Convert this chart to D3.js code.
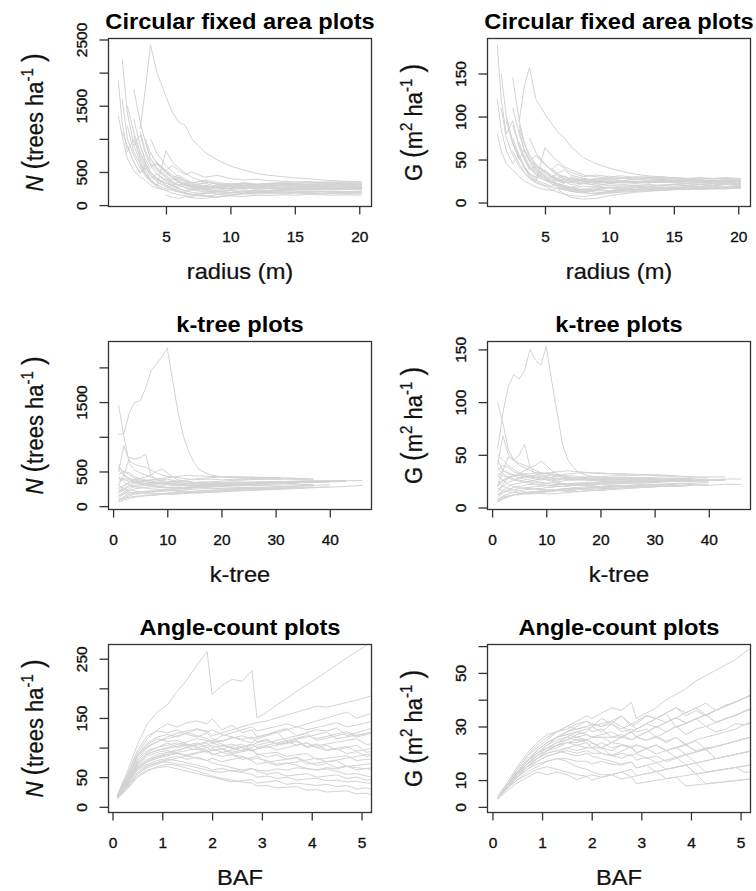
<!DOCTYPE html>
<html>
<head>
<meta charset="utf-8">
<script src="https://cdn.jsdelivr.net/npm/d3@7"></script>
<style>
  body { margin: 0; background: #fff; }
  svg { display: block; }
  text { white-space: pre; }
</style>
</head>
<body>
<div id="canvas"></div>
<script>
const _ = null

// x grids
const radius = [1.3, 1.6, 2, 2.5, 3, 3.4, 3.8, 4.3, 5, 5.5, 6, 6.5, 7, 8, 9, 10, 11, 12, 13, 14, 15, 16, 17, 18, 19, 20.2]
const kTree = [1, 2, 3, 4, 5, 6, 7, 8, 9, 10, 11, 12, 13, 14, 15, 16, 18, 20, 22, 25, 28, 31, 34, 37, 40, 43, 46]
const baf = [0.1, 0.3, 0.5, 0.7, 0.9, 1.1, 1.3, 1.5, 1.7, 1.9, 2.0, 2.2, 2.4, 2.6, 2.8, 2.9, 3.1, 3.3, 3.5, 3.7, 3.9, 4.1, 4.3, 4.5, 4.7, 4.9, 5.1, 5.3]

// circular plots, N (trees/ha) by radius
const circN = [
    [1880, 1250, 800, 1000, 700, 520, 400, 470, 380, 320, 300, 330, 290, 260, 280, 250, 270, 260, 250, 265, 255, 250, 245, 250, 255, 250],
    [_, 2200, 1400, 900, 1060, 780, 600, 620, 500, 420, 450, 390, 340, 360, 310, 330, 300, 310, 290, 300, 310, 300, 290, 300, 295, 290],
    [_, _, _, _, 1150, 1750, 2420, 2000, 1640, 1400, 1250, 1200, 1000, 800, 680, 590, 530, 480, 450, 430, 410, 400, 380, 370, 360, 350],
    [_, _, _, 1750, 1250, 950, 700, 560, 450, 380, 420, 360, 310, 330, 280, 300, 270, 280, 260, 270, 250, 260, 255, 250, 260, 255],
    [1350, 1050, 700, 520, 420, 380, 300, 260, 220, 250, 210, 190, 230, 200, 210, 220, 200, 210, 205, 215, 210, 200, 205, 210, 200, 205],
    [_, 1100, 900, 640, 500, 560, 450, 380, 330, 300, 350, 310, 280, 300, 270, 290, 300, 280, 290, 300, 290, 285, 280, 290, 285, 280],
    [_, _, 1200, 800, 620, 480, 380, 300, 250, 220, 200, 180, 160, 190, 170, 180, 200, 190, 195, 200, 190, 195, 200, 195, 190, 195],
    [_, _, _, 1050, 750, 580, 450, 350, 280, 240, 200, 170, 150, 130, 160, 150, 170, 165, 175, 170, 180, 175, 170, 175, 170, 172],
    [_, _, _, _, 900, 650, 500, 400, 300, 250, 210, 180, 160, 140, 120, 140, 130, 150, 145, 155, 150, 160, 155, 150, 155, 150],
    [_, _, _, 900, 650, 480, 380, 300, 820, 650, 560, 480, 420, 350, 320, 300, 330, 310, 320, 330, 320, 315, 320, 310, 315, 310],
    [_, _, _, _, _, 950, 700, 550, 420, 360, 300, 260, 230, 260, 240, 260, 280, 270, 280, 275, 285, 280, 275, 280, 278, 275],
    [_, _, _, _, _, _, 600, 470, 360, 300, 250, 220, 190, 170, 200, 190, 210, 230, 220, 235, 230, 240, 235, 230, 235, 232],
    [_, _, _, _, _, _, _, 400, 300, 250, 210, 180, 160, 140, 120, 150, 180, 200, 210, 220, 230, 225, 230, 240, 235, 238],
    [_, _, _, _, _, _, _, 650, 500, 420, 350, 300, 270, 350, 320, 300, 340, 320, 330, 340, 330, 335, 330, 325, 330, 328],
    [_, _, _, _, _, _, _, _, 150, 120, 100, 130, 110, 100, 130, 150, 170, 180, 190, 200, 195, 205, 210, 200, 205, 210],
    [_, _, _, _, _, 1000, 780, 640, 520, 600, 520, 460, 500, 420, 450, 400, 380, 390, 370, 360, 350, 355, 345, 350, 348, 345],
    [_, _, 1500, 1100, 800, 620, 500, 400, 330, 300, 270, 300, 270, 240, 260, 240, 250, 260, 250, 245, 250, 255, 260, 258, 255, 260],
    [_, _, _, _, _, _, 800, 620, 480, 420, 380, 330, 300, 260, 300, 280, 320, 300, 310, 320, 315, 310, 320, 315, 318, 320],
    [_, _, _, _, _, _, _, _, _, 400, 340, 300, 270, 240, 220, 260, 240, 260, 250, 240, 250, 245, 240, 245, 242, 240],
    [_, _, _, _, 600, 460, 360, 280, 220, 180, 160, 140, 130, 170, 200, 190, 210, 220, 215, 225, 230, 240, 250, 245, 255, 260],
    [_, 1600, 1000, 750, 560, 440, 360, 300, 400, 340, 300, 270, 240, 280, 260, 240, 260, 250, 270, 260, 265, 270, 265, 270, 268, 265],
    [_, _, _, 1300, 900, 700, 550, 640, 520, 450, 400, 360, 330, 290, 260, 290, 270, 290, 280, 300, 290, 300, 295, 300, 305, 300],
    [_, _, 900, 650, 480, 600, 480, 400, 330, 280, 240, 210, 250, 220, 200, 220, 210, 230, 225, 230, 240, 235, 240, 245, 240, 245],
    [_, _, _, _, 1100, 820, 640, 520, 420, 350, 300, 340, 300, 270, 300, 280, 300, 290, 300, 310, 305, 315, 310, 305, 310, 315],
    [_, _, _, _, _, _, 1000, 780, 600, 500, 420, 370, 330, 380, 340, 310, 330, 310, 320, 330, 335, 340, 345, 340, 345, 350],
    [_, _, _, _, _, _, _, _, 500, 420, 360, 310, 280, 240, 210, 190, 180, 200, 190, 185, 190, 185, 180, 185, 180, 182]
]

// circular plots, G (m2/ha) by radius
const circG = [
    [183, 120, 80, 95, 65, 50, 38, 42, 35, 30, 28, 31, 27, 25, 26, 24, 25, 24, 23, 24, 23, 22, 23, 22, 23, 22],
    [120, 85, 60, 45, 55, 42, 33, 30, 26, 24, 27, 24, 21, 23, 20, 22, 21, 22, 21, 20, 21, 22, 21, 20, 21, 20],
    [80, 60, 45, 38, 30, 25, 22, 18, 15, 14, 17, 15, 14, 16, 15, 17, 16, 18, 17, 18, 17, 18, 18, 17, 18, 18],
    [_, _, _, _, 95, 135, 157, 120, 103, 92, 82, 75, 65, 52, 45, 40, 36, 33, 31, 30, 28, 27, 26, 25, 25, 24],
    [_, _, _, 145, 95, 70, 55, 45, 36, 30, 33, 28, 25, 27, 24, 25, 23, 24, 23, 24, 23, 22, 23, 22, 22, 22],
    [_, 110, 75, 55, 42, 35, 28, 24, 20, 18, 16, 15, 14, 13, 15, 14, 16, 15, 16, 17, 16, 17, 16, 17, 16, 17],
    [_, _, 100, 70, 52, 40, 32, 26, 22, 19, 22, 19, 17, 19, 18, 20, 19, 20, 19, 20, 21, 20, 21, 20, 21, 20],
    [_, _, _, 90, 65, 50, 40, 33, 28, 24, 21, 19, 17, 15, 18, 17, 19, 20, 19, 20, 21, 20, 19, 20, 21, 20],
    [_, _, _, 75, 55, 40, 30, 25, 64, 55, 48, 42, 38, 32, 30, 28, 29, 27, 28, 27, 26, 27, 26, 25, 26, 25],
    [_, _, _, _, 70, 52, 40, 32, 26, 22, 18, 16, 13, 11, 10, 12, 14, 15, 16, 17, 18, 17, 18, 17, 18, 18],
    [_, _, _, _, 85, 60, 48, 38, 30, 26, 22, 20, 18, 22, 20, 22, 24, 23, 24, 25, 24, 25, 24, 23, 24, 24],
    [_, _, _, _, _, 55, 42, 35, 28, 24, 20, 17, 15, 13, 16, 18, 17, 19, 18, 20, 19, 20, 21, 20, 21, 21],
    [_, _, _, _, _, _, 50, 40, 32, 28, 25, 22, 30, 26, 28, 26, 28, 27, 28, 29, 28, 27, 28, 27, 28, 27],
    [_, _, _, _, _, _, 45, 36, 28, 22, 18, 15, 13, 12, 14, 13, 15, 17, 16, 18, 17, 19, 18, 19, 18, 19],
    [_, _, _, _, _, _, _, 40, 30, 25, 20, 17, 14, 12, 10, 13, 15, 14, 16, 15, 17, 16, 17, 18, 17, 18],
    [_, _, _, 60, 45, 35, 28, 23, 19, 15, 12, 10, 8, 7, 9, 11, 13, 14, 15, 16, 15, 16, 17, 16, 17, 17],
    [_, _, _, _, _, _, _, _, 35, 30, 27, 24, 28, 25, 27, 29, 28, 30, 29, 30, 29, 28, 29, 28, 29, 28],
    [_, _, _, _, _, _, _, _, _, 40, 34, 38, 32, 28, 25, 27, 25, 27, 26, 27, 26, 25, 26, 25, 26, 25],
    [_, _, _, _, _, _, _, 55, 45, 38, 45, 40, 35, 30, 32, 30, 31, 29, 30, 28, 29, 28, 27, 28, 27, 27],
    [_, _, _, _, _, _, _, _, _, _, 15, 10, 6, 4, 5, 8, 10, 12, 13, 14, 15, 16, 15, 16, 16, 17],
    [_, 150, 100, 70, 52, 42, 34, 28, 38, 32, 28, 25, 23, 26, 24, 23, 25, 24, 25, 24, 25, 24, 25, 24, 25, 24],
    [_, _, _, 110, 80, 60, 48, 55, 44, 38, 33, 30, 27, 24, 22, 24, 23, 24, 23, 24, 23, 24, 23, 24, 23, 24],
    [_, _, 95, 68, 50, 62, 50, 42, 35, 30, 26, 23, 28, 25, 23, 25, 24, 25, 24, 25, 26, 25, 26, 25, 26, 25],
    [_, _, _, _, 90, 68, 53, 43, 35, 29, 25, 28, 25, 22, 25, 23, 25, 24, 25, 26, 25, 26, 25, 24, 25, 26],
    [_, _, _, _, _, _, 75, 58, 45, 37, 31, 27, 24, 28, 25, 23, 25, 23, 24, 25, 25, 26, 26, 25, 26, 26],
    [_, _, _, _, _, _, _, _, 30, 25, 21, 18, 16, 14, 12, 11, 12, 13, 14, 14, 15, 15, 16, 16, 16, 17]
]

// k-tree plots, N by k
const kTreeN = [
    [1030, 1050, 1350, 1500, 1520, 1700, 1950, 2050, 2150, 2280, 1800, 1350, 1000, 780, 620, 520, 450, 420, 410, 400, 390, 385],
    [1460, 1000, 620, 520, 480, 450, 420, 400, 380, 390, 370, 360, 350, 360, 340, 350, 345, 340, 350, 345, 350, 355, 360, 365, 370],
    [500, 870, 650, 600, 580, 560, 520, 480, 450, 430, 420, 410, 400, 390, 380, 385, 390, 380, 385, 390, 395, 390, 385, 380],
    [300, 450, 700, 680, 700, 750, 450, 380, 350, 340, 330, 320, 330, 320, 315, 320, 325, 330, 335, 330, 340, 345, 350, 355, 360, 365, 370],
    [200, 300, 350, 380, 400, 420, 450, 500, 540, 480, 420, 380, 360, 350, 340, 330, 320, 315, 310, 315, 320, 325, 330],
    [600, 450, 400, 350, 330, 320, 300, 290, 280, 270, 275, 270, 265, 260, 270, 275, 280, 285, 290, 295, 300, 305, 310, 315],
    [80, 120, 150, 170, 180, 190, 200, 210, 215, 220, 225, 230, 235, 240, 245, 250, 255, 260, 265, 270, 275, 280, 290, 300, 310],
    [100, 110, 130, 140, 150, 155, 160, 165, 170, 175, 180, 185, 190, 195, 200, 205, 210, 220, 230, 240, 250, 260, 270],
    [350, 400, 380, 360, 340, 330, 320, 310, 300, 310, 300, 290, 295, 300, 305, 310, 315, 320, 330, 340, 345, 350, 355, 360, 365, 370],
    [150, 200, 250, 280, 290, 300, 310, 320, 330, 340, 350, 360, 370, 380, 390, 400, 410, 420, 425, 420, 415, 410, 400, 395],
    [450, 500, 480, 420, 400, 380, 360, 350, 340, 330, 320, 310, 300, 290, 280, 270, 260, 250, 245, 250, 255, 260, 270, 280],
    [250, 220, 200, 190, 185, 180, 175, 170, 180, 190, 200, 210, 205, 200, 195, 190, 200, 210, 220, 230, 240, 250, 260, 270, 280],
    [550, 500, 450, 400, 380, 360, 340, 330, 320, 310, 305, 300, 310, 320, 330, 340, 350, 360, 370, 380, 390, 400],
    [120, 180, 220, 250, 260, 270, 280, 275, 270, 265, 260, 255, 250, 260, 270, 280, 290, 300, 310, 320, 330, 335, 340, 345, 350, 355],
    [400, 350, 300, 280, 270, 260, 250, 245, 240, 235, 230, 225, 220, 215, 210, 220, 230, 240, 250, 260, 270, 280, 290, 300],
    [200, 260, 300, 330, 350, 370, 380, 390, 400, 410, 420, 430, 440, 445, 440, 435, 430, 425, 420, 415, 410, 405, 400],
    [300, 250, 230, 220, 210, 200, 190, 185, 180, 175, 170, 175, 180, 185, 190, 195, 200, 205, 215, 225, 235, 245, 255, 265, 275, 285, 300],
    [60, 90, 110, 130, 140, 150, 155, 160, 170, 180, 190, 200, 205, 210, 215, 220, 225, 230, 240, 250, 260, 265],
    [180, 240, 280, 300, 310, 320, 330, 335, 340, 345, 350, 355, 350, 345, 340, 335, 330, 335, 340, 345, 350, 355, 360, 365],
    [420, 380, 360, 340, 320, 300, 290, 280, 275, 270, 265, 260, 265, 270, 275, 280, 290, 300, 310, 320, 330, 340, 345, 350, 355, 360],
    [90, 140, 170, 190, 200, 210, 215, 220, 225, 230, 240, 250, 255, 260, 265, 270, 275, 285, 295, 305, 315, 325],
    [520, 440, 400, 380, 360, 350, 340, 335, 330, 325, 320, 315, 310, 305, 300, 300, 305, 310, 315, 320, 325, 330, 335, 340, 345],
    [260, 300, 330, 350, 360, 370, 375, 380, 370, 360, 350, 340, 330, 320, 310, 300, 295, 290, 300, 310, 320, 330, 340],
    [150, 170, 190, 200, 210, 215, 220, 230, 240, 245, 250, 260, 270, 280, 285, 290, 300, 310, 315, 320, 330, 340, 350, 355, 360, 365]
]

// k-tree plots, G by k
const kTreeG = [
    [55, 90, 115, 126, 122, 130, 150, 140, 135, 153, 120, 90, 60, 45, 38, 33, 30, 28, 27, 27, 26, 26],
    [100, 80, 55, 45, 40, 38, 35, 33, 32, 30, 31, 30, 29, 28, 28, 27, 27, 26, 27, 26, 27, 27, 27, 28, 28],
    [40, 68, 50, 45, 42, 40, 38, 35, 33, 32, 31, 30, 29, 28, 28, 27, 28, 27, 28, 28, 28, 27, 27, 27],
    [20, 35, 48, 45, 50, 60, 38, 32, 30, 29, 28, 27, 28, 27, 26, 27, 26, 27, 26, 27, 27, 26, 27, 27, 26, 27, 27],
    [15, 22, 28, 30, 32, 35, 38, 40, 44, 40, 35, 32, 30, 29, 28, 27, 26, 26, 25, 25, 26, 26, 26],
    [45, 35, 32, 30, 28, 27, 26, 25, 24, 23, 24, 23, 22, 22, 23, 23, 24, 24, 25, 25, 25, 26, 26, 26],
    [5, 8, 10, 12, 13, 14, 15, 15, 16, 16, 17, 17, 18, 18, 19, 19, 20, 20, 21, 21, 22, 22, 23, 23, 24],
    [8, 10, 11, 12, 12, 13, 13, 14, 14, 15, 15, 16, 16, 17, 17, 18, 18, 19, 19, 20, 20, 21, 22],
    [30, 35, 33, 31, 30, 29, 28, 27, 26, 27, 26, 25, 25, 26, 26, 27, 27, 27, 28, 28, 28, 29, 29, 29, 29, 29],
    [12, 16, 20, 22, 23, 24, 25, 26, 27, 28, 29, 30, 31, 32, 32, 33, 33, 32, 32, 31, 31, 30, 30, 29],
    [35, 40, 38, 34, 32, 30, 29, 28, 27, 26, 25, 24, 23, 22, 22, 21, 21, 20, 20, 21, 21, 22, 22, 23],
    [18, 16, 15, 14, 14, 13, 13, 13, 14, 15, 16, 16, 16, 15, 15, 15, 16, 17, 18, 19, 19, 20, 21, 22, 22],
    [50, 45, 40, 36, 33, 31, 30, 29, 28, 27, 27, 26, 27, 27, 28, 28, 29, 29, 30, 30, 31, 31],
    [10, 14, 17, 19, 20, 21, 22, 22, 21, 21, 20, 20, 20, 21, 21, 22, 22, 23, 23, 24, 24, 25, 25, 25, 26, 26],
    [30, 26, 22, 20, 19, 18, 18, 17, 17, 17, 16, 16, 16, 16, 16, 17, 17, 18, 18, 19, 19, 20, 20, 21],
    [15, 20, 24, 26, 28, 29, 30, 31, 32, 33, 33, 34, 34, 35, 34, 34, 33, 33, 32, 32, 31, 31, 30],
    [25, 20, 18, 17, 16, 15, 14, 14, 13, 13, 13, 13, 14, 14, 15, 15, 16, 16, 17, 18, 19, 20, 20, 21, 21, 22, 22],
    [6, 9, 11, 12, 13, 14, 14, 15, 15, 16, 16, 17, 17, 18, 18, 18, 19, 19, 20, 20, 21, 21],
    [20, 25, 28, 30, 31, 32, 32, 33, 33, 32, 32, 31, 31, 30, 30, 29, 29, 29, 28, 28, 28, 27, 27, 27],
    [32, 30, 28, 26, 25, 24, 23, 22, 22, 21, 21, 21, 22, 22, 22, 23, 23, 24, 24, 25, 25, 25, 26, 26, 26, 26],
    [7, 11, 13, 15, 16, 17, 17, 18, 18, 19, 19, 20, 20, 20, 21, 21, 21, 22, 22, 23, 23, 24],
    [38, 32, 29, 27, 26, 25, 24, 24, 23, 23, 22, 22, 22, 21, 21, 21, 22, 22, 23, 23, 24, 24, 25, 25, 25],
    [22, 26, 29, 30, 31, 31, 30, 30, 29, 29, 28, 28, 27, 27, 26, 26, 26, 25, 25, 25, 25, 25, 26],
    [12, 14, 16, 17, 18, 19, 19, 20, 20, 21, 21, 22, 22, 22, 23, 23, 23, 24, 24, 24, 25, 25, 25, 25, 26, 26]
]

// angle-count plots, N by BAF
const angleN = [
    [20, 60, 105, 140, 160, 172, 195, 215, 240, 262, 190, 205, 215, 212, 230, 150, 160, 172, 183, 195, 206, 217, 228, 240, 251, 262, 273, 285],
    [18, 45, 80, 100, 110, 115, 120, 125, 130, 128, 120, 125, 130, 135, 140, 142, 145, 150, 155, 160, 165, 170, 168, 172, 176, 180, 185, 190],
    [20, 50, 90, 115, 130, 140, 135, 142, 145, 140, 148, 130, 138, 125, 130, 118, 122, 128, 132, 120, 125, 130, 128, 133, 120, 125, 130, 135],
    [18, 45, 75, 90, 95, 100, 105, 110, 115, 112, 108, 112, 116, 120, 115, 118, 122, 126, 110, 114, 118, 122, 126, 115, 118, 121, 124, 127],
    [16, 40, 65, 78, 85, 90, 95, 100, 96, 100, 104, 98, 102, 106, 95, 98, 101, 104, 107, 110, 100, 103, 106, 109, 112, 115, 105, 108],
    [17, 42, 70, 85, 92, 95, 90, 88, 92, 95, 90, 85, 88, 80, 83, 86, 75, 78, 80, 83, 72, 74, 76, 78, 68, 70, 72, 74],
    [15, 35, 55, 68, 75, 80, 78, 74, 70, 66, 62, 65, 60, 58, 55, 50, 52, 48, 50, 45, 47, 48, 44, 45, 42, 43, 40, 41],
    [18, 48, 85, 105, 115, 110, 112, 105, 100, 95, 98, 92, 88, 85, 80, 82, 78, 72, 74, 70, 65, 62, 64, 60, 55, 56, 52, 48],
    [14, 30, 50, 60, 68, 72, 70, 65, 60, 55, 52, 48, 45, 42, 40, 35, 36, 32, 33, 34, 28, 29, 25, 26, 27, 22, 23, 18],
    [19, 55, 95, 120, 128, 125, 130, 122, 118, 125, 115, 110, 118, 112, 108, 115, 120, 125, 130, 135, 140, 145, 150, 155, 160, 150, 155, 160],
    [17, 40, 68, 80, 88, 92, 96, 100, 104, 108, 100, 104, 98, 102, 106, 100, 104, 108, 112, 116, 120, 115, 119, 123, 127, 120, 124, 128],
    [16, 38, 62, 72, 78, 82, 85, 80, 84, 78, 82, 76, 80, 84, 78, 72, 75, 70, 73, 76, 79, 82, 76, 79, 82, 85, 88, 91],
    [18, 46, 78, 95, 100, 108, 100, 104, 108, 100, 95, 98, 90, 93, 96, 88, 90, 92, 85, 88, 90, 80, 82, 84, 86, 78, 80, 82],
    [15, 36, 58, 70, 74, 76, 72, 70, 66, 62, 60, 58, 62, 60, 64, 62, 60, 64, 62, 66, 64, 62, 66, 64, 68, 66, 64, 68],
    [20, 52, 88, 108, 118, 122, 118, 125, 120, 115, 110, 120, 125, 130, 135, 128, 132, 136, 140, 135, 130, 134, 138, 142, 135, 138, 142, 146],
    [14, 32, 52, 62, 66, 68, 64, 60, 56, 52, 50, 46, 42, 44, 46, 40, 42, 44, 38, 40, 38, 36, 38, 34, 36, 30, 32, 28],
    [18, 44, 72, 88, 96, 98, 102, 106, 100, 104, 108, 102, 106, 100, 104, 108, 112, 106, 110, 104, 108, 100, 95, 98, 90, 93, 85, 88],
    [17, 42, 66, 76, 82, 86, 90, 86, 82, 78, 74, 70, 66, 62, 65, 60, 55, 58, 52, 54, 56, 50, 52, 54, 48, 50, 45, 47],
    [19, 50, 85, 102, 110, 118, 124, 128, 132, 126, 130, 122, 118, 114, 118, 110, 114, 105, 108, 112, 102, 106, 96, 99, 102, 94, 97, 100],
    [16, 38, 64, 76, 84, 88, 92, 95, 98, 92, 95, 98, 92, 96, 100, 104, 108, 112, 116, 120, 124, 112, 116, 120, 124, 118, 122, 126],
    [17, 44, 74, 92, 100, 104, 108, 102, 106, 110, 112, 106, 100, 94, 98, 90, 84, 88, 80, 84, 76, 70, 73, 66, 69, 62, 65, 58],
    [15, 34, 56, 66, 72, 78, 82, 86, 90, 94, 88, 92, 96, 100, 94, 98, 102, 96, 100, 104, 108, 100, 104, 96, 100, 104, 92, 95]
]

// angle-count plots, G by BAF
const angleG = [
    [3, 9, 14, 19, 22, 25, 28, 30, 32, 34, 33, 35, 37, 36, 39, 33, 35, 37, 40, 42, 44, 47, 49, 51, 53, 55, 58, 60],
    [3, 8, 13, 17, 20, 23, 26, 28, 30, 32, 30, 33, 31, 34, 30, 31, 34, 33, 35, 37, 34, 36, 34, 36, 38, 39, 41, 42],
    [3, 8, 12.5, 16, 19, 21, 22, 24, 24, 25, 26, 26, 26, 26, 28, 26, 28, 30, 28, 30, 31, 33, 30, 31.5, 33, 34, 36, 37],
    [3, 8, 13, 17, 20, 22, 24, 25, 26, 27, 26, 26, 24, 26, 25, 26, 25, 26, 24, 26, 23, 25, 26, 27, 28, 29, 31, 32],
    [3, 7, 11, 15, 18, 20, 21, 22, 21, 22, 22, 22, 21, 23, 22, 23, 22, 23, 21, 22, 23, 21, 22, 22.5, 23.5, 24.5, 25.5, 26.5],
    [3, 7, 11, 14, 17, 19, 20, 21, 20, 21, 20, 20, 19, 20, 19, 20, 18, 19, 17, 18, 19.5, 16.4, 17.2, 18, 18.8, 19.6, 20.4, 21.2],
    [3, 7, 10, 13, 15, 17, 18, 18, 17, 17, 16, 17, 16, 15.6, 16.8, 14.5, 15.5, 13.2, 14, 14.8, 15.6, 12.3, 12.9, 13.5, 14.1, 14.7, 15.3, 15.9],
    [3, 7, 10, 12, 14, 15, 14, 13, 12, 11.4, 12, 11, 12, 10.4, 11.2, 8.7, 9.3, 9.9, 10.5, 11.1, 7.8, 8.2, 8.6, 9, 9.4, 9.8, 10.2, 10.6],
    [3, 6, 9, 11, 13, 12, 13, 12, 10.2, 11.4, 10, 11, 12, 13, 11.2, 11.6, 12.4, 13.2, 14, 14.8, 15.6, 12.3, 12.9, 13.5, 14.1, 14.7, 12.8, 13.3],
    [3, 8, 14, 19, 23, 26, 28, 29, 31, 32, 31, 30, 31, 28, 29, 28, 29, 26, 28, 30, 27, 29, 30, 28, 29, 31, 30.6, 31.8],
    [4, 9, 15, 20, 24, 27, 28, 30, 29, 30, 28, 29, 26, 27, 25, 26, 24.8, 26.4, 24.5, 25.9, 23.4, 24.6, 21.5, 22.5, 23.5, 24.5, 25.5, 26.5],
    [3, 8, 12, 15, 17, 19, 20, 22, 23, 24, 22, 24, 22, 23, 22, 20, 21.7, 23.1, 21, 22.2, 23.4, 20.5, 21.5, 18, 18.8, 19.6, 20.4, 21.2],
    [3, 7, 11, 15, 18, 21, 23, 25, 27, 28, 30, 31, 32, 34, 30.8, 31.9, 34.1, 33, 35, 37, 35.1, 36.9, 34.4, 36, 37.6, 39.2, 40.8, 42.4],
    [3, 8, 13, 16, 18, 20, 21, 20, 19, 20, 19, 18, 17, 16, 16.8, 14.5, 15.5, 16.5, 14, 14.8, 15.6, 16.4, 12.9, 13.5, 14.1, 14.7, 15.3, 15.9],
    [3, 7, 12, 16, 20, 23, 25, 26, 28, 27, 26, 27, 28, 26, 28, 29, 31, 33, 35, 29.6, 31.2, 32.8, 34.4, 31.5, 32.9, 34.3, 35.7, 37.1],
    [3, 8, 13, 17, 21, 24, 26, 27, 26, 25, 24, 22, 19.2, 20.8, 22.4, 20.3, 21.7, 19.8, 21, 18.5, 19.5, 20.5, 21.5, 18, 18.8, 19.6, 20.4, 21.2],
    [3, 7, 11, 14, 16, 17, 18, 17, 15, 14, 13, 12, 12, 13, 14, 11.6, 12.4, 13.2, 10.5, 11.1, 11.7, 12.3, 8.6, 9, 9.4, 9.8, 10.2, 10.6],
    [3, 8, 13, 18, 21, 24, 26, 27, 28, 29, 30, 28, 31, 29, 31, 29, 31, 33, 31.5, 33.3, 35.1, 36.9, 38.7, 36, 37.6, 39.2, 40.8, 42.4],
    [3, 8, 13, 17, 21, 24, 26, 28, 29, 30, 31, 30, 32, 30, 28, 29, 31, 29.7, 31.5, 33.3, 31.2, 32.8, 34.4, 31.5, 32.9, 34.3, 35.7, 37.1],
    [3, 7, 12, 16, 19, 22, 23, 24, 25, 25, 24, 22, 24, 23.4, 22.4, 23.2, 21.7, 23.1, 21, 22.2, 19.5, 20.5, 21.5, 22.5, 23.5, 24.5, 25.5, 26.5],
    [3, 8, 13, 17, 20, 22, 24, 26, 25, 24, 22, 20, 19.2, 18.2, 19.6, 17.4, 18.6, 16.5, 17.5, 18.5, 15.6, 16.4, 17.2, 18, 18.8, 19.6, 20.4, 21.2],
    [3, 7, 11, 15, 18, 21, 23, 24, 23, 22, 24, 22, 24, 26, 28, 26.1, 27.9, 29.7, 31.5, 33.3, 31.2, 32.8, 34.4, 36, 37.6, 39.2, 40.8, 42.4]
]

const titles = ["Circular fixed area plots", "k-tree plots", "Angle-count plots"]
const xTitles = ["radius (m)", "k-tree", "BAF"]

const radiusTicks = [5, 10, 15, 20]
const kTreeTicks = [0, 10, 20, 30, 40]
const bafTicks = [0, 1, 2, 3, 4, 5]
const circNTicks = [0, 500, 1000, 1500, 2000, 2500]
const circNLabels = [0, 500, 1500, 2500]
const circGTicks = [0, 50, 100, 150]
const kTreeNTicks = [0, 500, 1000, 1500, 2000]
const kTreeNLabels = [0, 500, 1500]
const kTreeGTicks = [0, 50, 100, 150]
const angleNTicks = [0, 50, 100, 150, 200, 250]
const angleNLabels = [0, 50, 150, 250]
const angleGTicks = [0, 10, 20, 30, 40, 50, 60]
const angleGLabels = [0, 10, 30, 50]

// layout
const width = 756
const height = 891
const colLeft = [108.5, 487.5]
const rowTop = [38.5, 341.5, 644.5]
const boxW = 263
const boxH = 168
const sx = 1.1   // the reference text is a little wider than tall
const font = "'Liberation Sans', Arial, Helvetica, sans-serif"

const panels = [
    { col: 0, row: 0, xs: radius, series: circN, xDomain: [0.54, 20.95], yDomain: [-21, 2515],
      xTicks: radiusTicks, yTicks: circNTicks, yLabels: circNLabels, yTitle: "N" },
    { col: 1, row: 0, xs: radius, series: circG, xDomain: [0.54, 20.95], yDomain: [-4.6, 190.7],
      xTicks: radiusTicks, yTicks: circGTicks, yLabels: circGTicks, yTitle: "G" },
    { col: 0, row: 1, xs: kTree, series: kTreeN, xDomain: [-0.85, 47.7], yDomain: [-48, 2373],
      xTicks: kTreeTicks, yTicks: kTreeNTicks, yLabels: kTreeNLabels, yTitle: "N" },
    { col: 1, row: 1, xs: kTree, series: kTreeG, xDomain: [-0.85, 47.7], yDomain: [-1.9, 157.5],
      xTicks: kTreeTicks, yTicks: kTreeGTicks, yLabels: kTreeGTicks, yTitle: "G" },
    { col: 0, row: 2, xs: baf, series: angleN, xDomain: [-0.08, 5.2], yDomain: [-9.6, 274],
      xTicks: bafTicks, yTicks: angleNTicks, yLabels: angleNLabels, yTitle: "N" },
    { col: 1, row: 2, xs: baf, series: angleG, xDomain: [-0.1, 5.2], yDomain: [-2.1, 60.6],
      xTicks: bafTicks, yTicks: angleGTicks, yLabels: angleGLabels, yTitle: "G" }
]

const svg = d3.select("#canvas").append("svg")
    .attr("width", width)
    .attr("height", height)
    .style("font-family", font)

const defs = svg.append("defs")

panels.forEach((p, i) => {
    const left = colLeft[p.col]
    const top = rowTop[p.row]

    const x = d3.scaleLinear().domain(p.xDomain).range([left, left + boxW])
    const y = d3.scaleLinear().domain(p.yDomain).range([top + boxH, top])

    defs.append("clipPath").attr("id", "clip" + i)
        .append("rect")
        .attr("x", left).attr("y", top)
        .attr("width", boxW).attr("height", boxH)

    const g = svg.append("g")

    const line = d3.line()
        .defined(d => d[1] != null)
        .x(d => x(d[0]))
        .y(d => y(d[1]))

    g.append("g")
        .attr("clip-path", `url(#clip${i})`)
        .selectAll("path")
        .data(p.series)
        .join("path")
        .attr("d", s => line(s.map((v, j) => [p.xs[j], v])))
        .attr("fill", "none")
        .attr("stroke", "#d3d3d3")
        .attr("stroke-width", 1)

    // x axis
    const xAxis = g.append("g")
        .attr("transform", `translate(0, ${top + boxH})`)
        .call(d3.axisBottom(x).tickValues(p.xTicks).tickSize(8).tickFormat(d3.format("d")))
    xAxis.select(".domain").remove()
    xAxis.selectAll(".tick line").attr("stroke", "#333").attr("stroke-width", 1.3)
    xAxis.selectAll(".tick text")
        .attr("y", 35).attr("dy", null)
        .attr("fill", "#111")
        .attr("stroke", "#111").attr("stroke-width", 0.35)
        .style("font-size", "15.5px")
        .style("font-family", font)

    // y axis, labels parallel to the axis, some left blank as in the original
    const yAxis = g.append("g")
        .attr("transform", `translate(${left}, 0)`)
        .call(d3.axisLeft(y).tickValues(p.yTicks).tickSize(9)
            .tickFormat(d => p.yLabels.includes(d) ? d : ""))
    yAxis.select(".domain").remove()
    yAxis.selectAll(".tick line").attr("stroke", "#333").attr("stroke-width", 1.3)
    yAxis.selectAll(".tick text")
        .attr("x", null).attr("dy", null)
        .attr("transform", "translate(-22, 0) rotate(-90)")
        .attr("text-anchor", "middle")
        .attr("fill", "#111")
        .attr("stroke", "#111").attr("stroke-width", 0.35)
        .style("font-size", "15.5px")
        .style("font-family", font)

    // plot box
    g.append("rect")
        .attr("x", left).attr("y", top)
        .attr("width", boxW).attr("height", boxH)
        .attr("fill", "none")
        .attr("stroke", "#333")
        .attr("stroke-width", 1.3)

    // title
    g.append("text")
        .attr("transform", `translate(${left + boxW / 2}, ${top - 10}) scale(${sx}, 1)`)
        .attr("text-anchor", "middle")
        .attr("font-weight", "bold")
        .attr("font-size", 21.5)
        .attr("fill", "#000")
        .text(titles[p.row])

    // x title
    g.append("text")
        .attr("transform", `translate(${left + boxW / 2}, ${top + boxH + 72}) scale(${sx}, 1)`)
        .attr("text-anchor", "middle")
        .attr("font-size", 21.5)
        .attr("fill", "#111")
        .attr("stroke", "#111").attr("stroke-width", 0.25)
        .text(xTitles[p.row])

    // y title
    const yt = g.append("text")
        .attr("transform", `translate(${left - 66}, ${top + boxH / 2}) scale(${sx}, 1) rotate(-90)`)
        .attr("text-anchor", "middle")
        .attr("font-size", 22)
        .attr("fill", "#111")
        .attr("stroke", "#111").attr("stroke-width", 0.25)
    const paren = s => yt.append("tspan").attr("font-size", 26).text(s)
    if (p.yTitle === "N") {
        yt.append("tspan").attr("font-style", "italic").text("N ")
        paren("(")
        yt.append("tspan").text("trees ha")
        yt.append("tspan").attr("dy", -9).attr("font-size", 15).text("-1")
        yt.append("tspan").attr("dy", 9).text(" ")
        paren(")")
    } else {
        yt.append("tspan").text("G ")
        paren("(")
        yt.append("tspan").text("m")
        yt.append("tspan").attr("dy", -9).attr("font-size", 15).text("2")
        yt.append("tspan").attr("dy", 9).text(" ha")
        yt.append("tspan").attr("dy", -9).attr("font-size", 15).text("-1")
        yt.append("tspan").attr("dy", 9).text(" ")
        paren(")")
    }
})
</script>
</body>
</html>
